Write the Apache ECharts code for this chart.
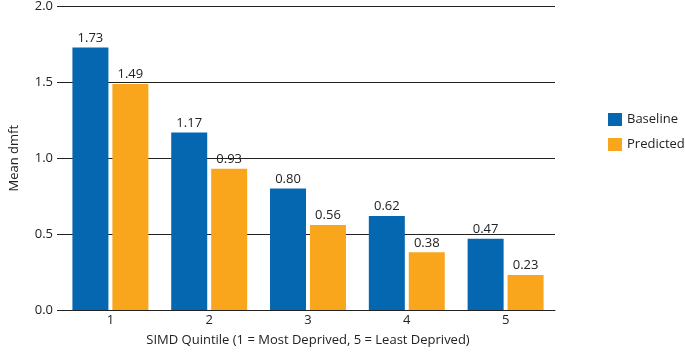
<!DOCTYPE html>
<html>
<head>
<meta charset="utf-8">
<script src="https://cdn.jsdelivr.net/npm/echarts@6/dist/echarts.min.js"></script>
<style>
  html, body { margin: 0; padding: 0; background: #fff; }
  #chart { width: 685px; height: 352px; }
</style>
</head>
<body>
<div id="chart"></div>
<script>
// chart data
const quintiles = ['1', '2', '3', '4', '5'];
const baseline = [1.73, 1.17, 0.80, 0.62, 0.47];
const predicted = [1.49, 0.93, 0.56, 0.38, 0.23];

const font = '"Open Sans", "Noto Sans", sans-serif';
const chart = echarts.init(document.getElementById('chart'));

const labelStyle = {
    show: true,
    position: 'top',
    distance: 3,
    color: '#222',
    fontSize: 13,
    fontFamily: font,
    formatter: p => p.value.toFixed(2)
};

chart.setOption({
    animation: false,
    textStyle: { fontFamily: font },
    grid: { left: 58, right: 130, top: 4, bottom: 39 },
    legend: {
        orient: 'vertical',
        left: 608,
        top: 113,
        padding: 0,
        itemWidth: 14,
        itemHeight: 13,
        itemGap: 12,
        icon: 'rect',
        textStyle: { fontSize: 13, color: '#222', fontFamily: font },
        data: ['Baseline', 'Predicted']
    },
    xAxis: {
        type: 'category',
        data: quintiles,
        name: 'SIMD Quintile (1 = Most Deprived, 5 = Least Deprived)',
        nameLocation: 'middle',
        nameGap: 24,
        nameTextStyle: { fontSize: 13, color: '#222', fontFamily: font },
        axisLine: { lineStyle: { color: '#222', width: 1 } },
        axisTick: { inside: true, length: 6, lineStyle: { color: '#222' } },
        axisLabel: { fontSize: 13, color: '#222', margin: 4 }
    },
    yAxis: {
        type: 'value',
        min: 0,
        max: 2,
        interval: 0.5,
        name: 'Mean dmft',
        nameLocation: 'middle',
        nameGap: 40,
        nameTextStyle: { fontSize: 13, color: '#222', fontFamily: font },
        axisLine: { show: false },
        axisTick: { show: true, length: 4, lineStyle: { color: '#222' } },
        axisLabel: { fontSize: 13, color: '#222', margin: 8, formatter: v => v.toFixed(1) },
        splitLine: { lineStyle: { color: '#222', width: 1 } }
    },
    series: [
        {
            name: 'Baseline',
            type: 'bar',
            data: baseline,
            barWidth: 36,
            barGap: '11%',
            itemStyle: { color: '#0567b0' },
            label: labelStyle
        },
        {
            name: 'Predicted',
            type: 'bar',
            data: predicted,
            barWidth: 36,
            itemStyle: { color: '#f9a61c' },
            label: labelStyle
        }
    ]
});
</script>
</body>
</html>
